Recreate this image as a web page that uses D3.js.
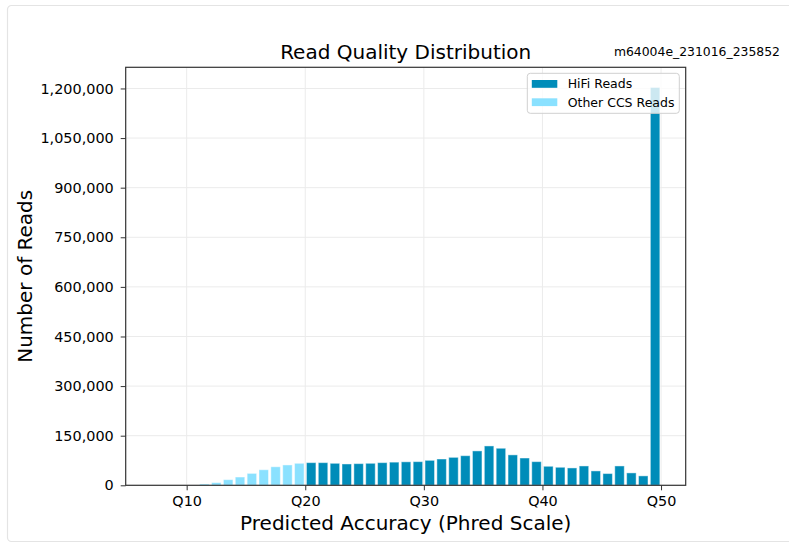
<!DOCTYPE html>
<html>
<head>
<meta charset="utf-8">
<script src="https://cdn.jsdelivr.net/npm/d3@7"></script>
<style>
  body { margin: 0; background: #fff; }
  text { font-family: "DejaVu Sans", sans-serif; fill: #000; }
</style>
</head>
<body>
<div id="main"></div>
<script>
// Phred bins (left edge of each bin) and read counts
const otherBins = [11, 12, 13, 14, 15, 16, 17, 18, 19];
const otherCounts = [4000, 8000, 17000, 25000, 36000, 47000, 56000, 61500, 66500];

const hifiBins = [20, 21, 22, 23, 24, 25, 26, 27, 28, 29,
                  30, 31, 32, 33, 34, 35, 36, 37, 38, 39,
                  40, 41, 42, 43, 44, 45, 46, 47, 48, 49];
const hifiCounts = [68500, 68500, 66500, 64500, 65500, 66500, 68500, 70000, 71000, 71500,
                    75500, 79500, 84500, 89500, 104000, 119000, 112000, 92000, 82500, 71500,
                    57500, 54500, 52500, 58500, 43500, 35500, 58500, 37500, 28500, 1203000];

const xTicks = [10, 20, 30, 40, 50];
const yTicks = [0, 150000, 300000, 450000, 600000, 750000, 900000, 1050000, 1200000];

const seriesNames = ["HiFi Reads", "Other CCS Reads"];
const seriesColors = ["#008cb9", "#8ae1ff"];

document.addEventListener('DOMContentLoaded', function () {
  const w = 789;
  const h = 543;
  const left = 125.7, right = 685.7, top = 67.3, bottom = 485.3;

  const svg = d3.select("#main")
    .append("svg")
    .attr("width", w)
    .attr("height", h);

  // outer card border
  svg.append("rect")
    .attr("x", 7.5).attr("y", 5.5)
    .attr("width", 800).attr("height", 536)
    .attr("rx", 4)
    .attr("fill", "#fff")
    .attr("stroke", "#e4e4e4")
    .attr("stroke-width", 1.2);

  const xScale = d3.scaleLinear().domain([4.86, 52.08]).range([left, right]);
  const yScale = d3.scaleLinear().domain([0, 1264000]).range([bottom, top]);

  // grid
  svg.append("g")
    .selectAll("line.gy")
    .data(yTicks)
    .enter()
    .append("line")
    .attr("x1", left).attr("x2", right)
    .attr("y1", d => yScale(d)).attr("y2", d => yScale(d))
    .attr("stroke", "#ebebeb").attr("stroke-width", 1);

  svg.append("g")
    .selectAll("line.gx")
    .data(xTicks)
    .enter()
    .append("line")
    .attr("x1", d => xScale(d)).attr("x2", d => xScale(d))
    .attr("y1", top).attr("y2", bottom)
    .attr("stroke", "#ebebeb").attr("stroke-width", 1);

  // bars
  function drawBars(bins, counts, color) {
    svg.append("g")
      .selectAll("rect")
      .data(bins.map((b, i) => [b, counts[i]]))
      .enter()
      .append("rect")
      .attr("x", d => xScale(d[0] + 0.1))
      .attr("width", d => xScale(d[0] + 0.9) - xScale(d[0] + 0.1))
      .attr("y", d => yScale(d[1]))
      .attr("height", d => bottom - yScale(d[1]))
      .attr("fill", color)
      .attr("stroke", "#ffffff")
      .attr("stroke-opacity", 0.45)
      .attr("stroke-width", 1);
  }
  drawBars(otherBins, otherCounts, seriesColors[1]);
  drawBars(hifiBins, hifiCounts, seriesColors[0]);

  // axes
  const xAxis = d3.axisBottom(xScale)
    .tickValues(xTicks)
    .tickFormat(d => "Q" + d)
    .tickSize(5)
    .tickPadding(5.5);
  const yAxis = d3.axisLeft(yScale)
    .tickValues(yTicks)
    .tickFormat(d3.format(","))
    .tickSize(5)
    .tickPadding(7);

  const gx = svg.append("g")
    .attr("transform", "translate(0," + bottom + ")")
    .call(xAxis);
  const gy = svg.append("g")
    .attr("transform", "translate(" + left + ",0)")
    .call(yAxis);

  [gx, gy].forEach(g => {
    g.select(".domain").remove();
    g.selectAll("line").attr("stroke", "#333").attr("stroke-width", 1);
    g.selectAll("text")
      .style("font-family", "DejaVu Sans")
      .style("font-size", "14.4px")
      .attr("fill", "#000");
  });

  // frame
  svg.append("rect")
    .attr("x", left).attr("y", top)
    .attr("width", right - left).attr("height", bottom - top)
    .attr("fill", "none")
    .attr("stroke", "#333")
    .attr("stroke-width", 1.2);

  // legend
  const legend = svg.append("g").attr("transform", "translate(527.3,73.3)");
  legend.append("rect")
    .attr("width", 152).attr("height", 40)
    .attr("rx", 3)
    .attr("fill", "#fff").attr("fill-opacity", 0.8)
    .attr("stroke", "#d0d0d0").attr("stroke-width", 1);
  seriesNames.forEach((name, i) => {
    legend.append("rect")
      .attr("x", 4.5).attr("y", 6.7 + i * 18.3)
      .attr("width", 25.5).attr("height", 7.8)
      .attr("fill", seriesColors[i]);
    legend.append("text")
      .attr("x", 40.4).attr("y", 10.7 + i * 18.3)
      .attr("dy", "0.36em")
      .style("font-size", "12.5px")
      .text(name);
  });

  // titles
  svg.append("text")
    .attr("x", (left + right) / 2).attr("y", 59)
    .style("text-anchor", "middle")
    .style("font-size", "20px")
    .text("Read Quality Distribution");

  svg.append("text")
    .attr("x", 780).attr("y", 56)
    .style("text-anchor", "end")
    .style("font-size", "12.4px")
    .text("m64004e_231016_235852");

  svg.append("text")
    .attr("x", (left + right) / 2).attr("y", 530)
    .style("text-anchor", "middle")
    .style("font-size", "20px")
    .text("Predicted Accuracy (Phred Scale)");

  svg.append("text")
    .attr("transform", "translate(31.5," + (top + bottom) / 2 + ") rotate(-90)")
    .style("text-anchor", "middle")
    .style("font-size", "20px")
    .text("Number of Reads");
});
</script>
</body>
</html>
